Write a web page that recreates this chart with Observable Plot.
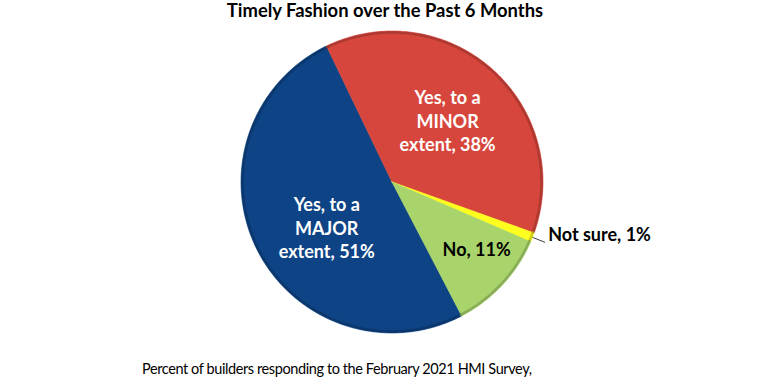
<!DOCTYPE html>
<html><head><meta charset="utf-8">
<script src="https://cdn.jsdelivr.net/npm/d3@7"></script>
<script src="https://cdn.jsdelivr.net/npm/@observablehq/plot@0.6"></script>
<style>
html,body{margin:0;padding:0;background:#fff;}
#wrap{width:768px;height:384px;overflow:hidden;position:relative;font-family:Lato,"Open Sans",sans-serif;color:#000;}
#title{height:28px;line-height:20px;text-align:center;font-weight:bold;font-size:18.4px;padding-left:2px;}
#chart{height:320px;}
#caption{position:absolute;left:142px;top:359px;font-size:14.5px;letter-spacing:-0.4px;line-height:20px;white-space:nowrap;}
</style></head>
<body><div id="wrap"><div id="title">Timely Fashion over the Past 6 Months</div><div id="chart"></div><div id="caption">Percent of builders responding to the February 2021 HMI Survey,</div></div>
<script>
// ---- data ----
const categories = ["Yes, to a MAJOR extent", "Yes, to a MINOR extent", "Not sure", "No"];
const values = [51, 38, 1, 11];
const labels = ["Yes, to a\nMAJOR\nextent, 51%", "Yes, to a\nMINOR\nextent, 38%", "Not sure, 1%", "No, 11%"];
const colors = ["#0E4485", "#D7463C", "#FFFF1F", "#A9D46B"];

// ---- layout ----
const W = 768, H = 320, CX = 391.5, CY = 153.5, R = 151;
const START = 152.5 * Math.PI / 180;

const data = categories.map((c, i) => ({category: c, value: values[i], label: labels[i], color: colors[i]}));
const pie = d3.pie().sort(null).value(d => d.value).startAngle(START).endAngle(START + 2 * Math.PI);
const arcs = pie(data);
const polar = (a, r) => [r * Math.sin(a), r * Math.cos(a)];

function arcPoints(a, r, withCenter) {
  const n = Math.max(2, Math.ceil((a.endAngle - a.startAngle) / (Math.PI / 180)));
  const pts = [];
  if (withCenter) pts.push({category: a.data.category, x: 0, y: 0});
  for (let k = 0; k <= n; k++) {
    const t = a.startAngle + (a.endAngle - a.startAngle) * k / n;
    const [x, y] = polar(t, r);
    pts.push({category: a.data.category, x, y});
  }
  if (withCenter) pts.push({category: a.data.category, x: 0, y: 0});
  return pts;
}
const slicePts = arcs.flatMap(a => arcPoints(a, 1, true));
const rimPts = arcs.flatMap(a => arcPoints(a, 0.99, false));
const rimColors = colors.map(c => d3.color(c).darker(0.7).formatHex());

const mid = a => (a.startAngle + a.endAngle) / 2;
const labelOf = (cat, r) => {
  const a = arcs.find(d => d.data.category === cat);
  const [x, y] = polar(mid(a), r);
  return [{x, y, label: a.data.label}];
};
const notSure = arcs.find(d => d.data.category === "Not sure");
const [lx1, ly1] = polar(mid(notSure), 1.0);
const [lx2, ly2] = polar(mid(notSure), 1.09);

const chart = Plot.plot({
  width: W, height: H,
  margin: 0,
  style: {fontFamily: "Lato, 'Open Sans', sans-serif", background: "transparent"},
  x: {domain: [-CX / R, (W - CX) / R], axis: null},
  y: {domain: [-(H - CY) / R, CY / R], axis: null},
  color: {domain: categories, range: colors},
  marks: [
    Plot.line(slicePts, {x: "x", y: "y", z: "category", fill: "category", stroke: "category", strokeWidth: 0.6, curve: "linear"}),
    Plot.line(rimPts, {x: "x", y: "y", z: "category", stroke: d => rimColors[categories.indexOf(d.category)], strokeWidth: 2.5, strokeOpacity: 0.85}),
    Plot.link([0], {x1: () => lx1, y1: () => ly1, x2: () => lx2, y2: () => ly2, stroke: "#404040", strokeWidth: 1}),
    Plot.text(labelOf("Yes, to a MAJOR extent", 0.55), {x: "x", y: "y", text: "label", fill: "white", fontSize: 18, fontWeight: "bold", lineHeight: 1.3, dx: 9, dy: 8}),
    Plot.text(labelOf("Yes, to a MINOR extent", 0.55), {x: "x", y: "y", text: "label", fill: "white", fontSize: 18, fontWeight: "bold", lineHeight: 1.3, dy: 0}),
    Plot.text(labelOf("No", 0.72), {x: "x", y: "y", text: "label", fill: "black", fontSize: 18, fontWeight: "bold", dx: 5, dy: -6}),
    Plot.text([{x: lx2, y: ly2, label: notSure.data.label}], {x: "x", y: "y", text: "label", fill: "black", fontSize: 18, fontWeight: "bold", textAnchor: "start", dx: 3, dy: -7})
  ]
});
document.getElementById("chart").appendChild(chart);
</script>
</body></html>
